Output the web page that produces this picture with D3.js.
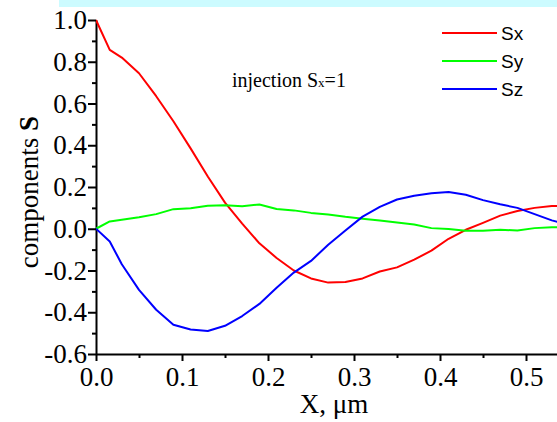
<!DOCTYPE html>
<html>
<head>
<meta charset="utf-8">
<script src="https://cdn.jsdelivr.net/npm/d3@7"></script>
<style>
  body { margin: 0; background: #fff; }
  svg { display: block; }
</style>
</head>
<body>
<svg id="chart" width="557" height="422"></svg>
<script>
// values
const xs = [0, 0.016, 0.03, 0.05, 0.07, 0.09, 0.11, 0.13, 0.15, 0.17, 0.19, 0.21, 0.23, 0.25, 0.27,
            0.29, 0.31, 0.33, 0.35, 0.37, 0.39, 0.41, 0.43, 0.45, 0.47, 0.49, 0.51, 0.53, 0.55];
const sx = [1.0, 0.857, 0.82, 0.745, 0.635, 0.515, 0.385, 0.25, 0.125, 0.025, -0.07, -0.14, -0.2, -0.238, -0.258,
            -0.255, -0.238, -0.205, -0.185, -0.148, -0.105, -0.048, -0.005, 0.028, 0.063, 0.085, 0.1, 0.109, 0.11];
const sy = [0, 0.035, 0.043, 0.055, 0.07, 0.094, 0.098, 0.11, 0.112, 0.108, 0.116, 0.095, 0.088, 0.076, 0.068,
            0.057, 0.048, 0.04, 0.03, 0.02, 0.003, -0.001, -0.01, -0.01, -0.005, -0.008, 0.003, 0.007, 0.008];
const sz = [0, -0.061, -0.17, -0.293, -0.388, -0.46, -0.483, -0.49, -0.465, -0.418, -0.36, -0.283, -0.21, -0.154, -0.077,
            -0.008, 0.058, 0.105, 0.14, 0.158, 0.17, 0.176, 0.163, 0.137, 0.117, 0.1, 0.07, 0.04, 0.02];
const seriesNames = ['Sx', 'Sy', 'Sz'];
const seriesColors = ['#ff0000', '#00ff00', '#0000ff'];
const xTicks = [0, 0.1, 0.2, 0.3, 0.4, 0.5];
const yTicks = [-0.6, -0.4, -0.2, 0, 0.2, 0.4, 0.6, 0.8, 1.0];

const svg = d3.select('#chart');

// light cyan band across the top
svg.append('rect')
	.attr('x', 59).attr('y', 0)
	.attr('width', 498).attr('height', 7)
	.attr('fill', '#ccfbff');

const x = d3.scaleLinear().domain([0, 0.55]).range([96, 569]);
const y = d3.scaleLinear().domain([-0.6, 1.0]).range([354, 20]);

const serif = '"Liberation Serif", "Times New Roman", serif';

// minor ticks
svg.append('g')
	.attr('transform', 'translate(96,0)')
	.call(d3.axisLeft(y).tickValues(d3.range(-0.5, 1.0, 0.2)).tickSize(4).tickFormat(''))
	.call(g => g.select('.domain').remove())
	.selectAll('line').attr('stroke-width', 2);
svg.append('g')
	.attr('transform', 'translate(0,354)')
	.call(d3.axisBottom(x).tickValues(d3.range(0.05, 0.55, 0.1)).tickSize(4).tickFormat(''))
	.call(g => g.select('.domain').remove())
	.selectAll('line').attr('stroke-width', 2);

// major axes
const yAxis = svg.append('g')
	.attr('transform', 'translate(96,0)')
	.call(d3.axisLeft(y).tickValues(yTicks).tickSize(8).tickSizeOuter(0).tickPadding(1).tickFormat(d3.format('.1f')));
const xAxis = svg.append('g')
	.attr('transform', 'translate(0,354)')
	.call(d3.axisBottom(x).tickValues(xTicks).tickSize(7).tickSizeOuter(0).tickPadding(3).tickFormat(d3.format('.1f')));

[xAxis, yAxis].forEach(a => {
	a.select('.domain').attr('stroke-width', 2);
	a.selectAll('line').attr('stroke-width', 2);
	a.selectAll('text')
		.attr('font-family', serif)
		.attr('font-size', 27)
		.attr('fill', '#000');
});
yAxis.selectAll('text').text(d => d3.format('.1f')(d).replace('−', '-'));
xAxis.selectAll('text').attr('dy', '0.8em');

// lines
const seriesData = [sx, sy, sz];
const line = d3.line()
	.x((d, i) => x(xs[i]))
	.y(d => y(d));

svg.append('defs').append('clipPath').attr('id', 'clip')
	.append('rect').attr('x', 96).attr('y', 0).attr('width', 480).attr('height', 354);

svg.append('g')
	.attr('clip-path', 'url(#clip)')
	.selectAll('path')
	.data(seriesData)
	.enter().append('path')
	.attr('d', line)
	.attr('fill', 'none')
	.attr('stroke', (d, i) => seriesColors[i])
	.attr('stroke-width', 2)
	.attr('stroke-linejoin', 'round');

// legend
const legend = svg.append('g');
seriesNames.forEach((name, i) => {
	const ly = 33 + i * 28;
	legend.append('line')
		.attr('x1', 442).attr('x2', 497)
		.attr('y1', ly).attr('y2', ly)
		.attr('stroke', seriesColors[i])
		.attr('stroke-width', 2);
	legend.append('text')
		.attr('x', 501).attr('y', ly + 7)
		.attr('font-family', '"Liberation Sans", Arial, sans-serif')
		.attr('font-size', 19)
		.text(name);
});

// annotation
const note = svg.append('text')
	.attr('x', 232).attr('y', 87)
	.attr('font-family', serif)
	.attr('font-size', 20);
note.append('tspan').text('injection S');
note.append('tspan').attr('font-size', 13).text('x');
note.append('tspan').text('=1');

// axis titles
svg.append('text')
	.attr('x', 334).attr('y', 413)
	.attr('text-anchor', 'middle')
	.attr('font-family', serif)
	.attr('font-size', 27)
	.text('X, \u03bcm');

const yt = svg.append('text')
	.attr('transform', 'translate(38,192) rotate(-90)')
	.attr('text-anchor', 'middle')
	.attr('font-family', serif)
	.attr('font-size', 27);
yt.append('tspan').text('components ');
yt.append('tspan').attr('font-weight', 'bold').text('S');
</script>
</body>
</html>
